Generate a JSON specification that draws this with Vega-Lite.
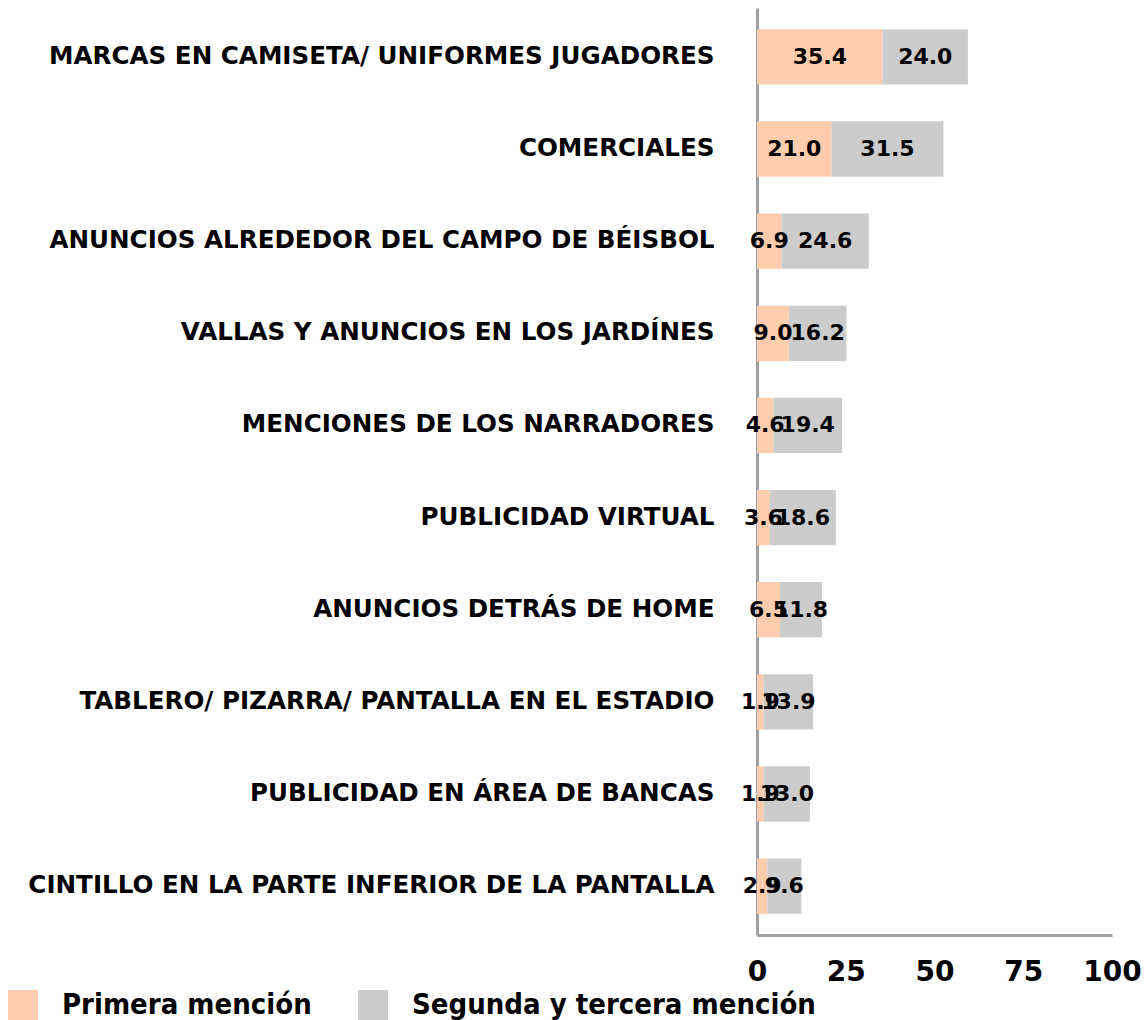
{
  "$schema": "https://vega.github.io/schema/vega-lite/v6.json",
  "width": 355,
  "height": 927,
  "autosize": {"type": "none"},
  "padding": {"left": 757, "top": 8, "right": 34, "bottom": 85},
  "background": "white",
  "config": {"view": {"stroke": null}, "font": "DejaVu Sans"},
  "data": {
    "values": [
      {"cat": "MARCAS EN CAMISETA/ UNIFORMES JUGADORES", "serie": "Primera mención", "ord": 1, "value": 35.4},
      {"cat": "MARCAS EN CAMISETA/ UNIFORMES JUGADORES", "serie": "Segunda y tercera mención", "ord": 2, "value": 24.0},
      {"cat": "COMERCIALES", "serie": "Primera mención", "ord": 1, "value": 21.0},
      {"cat": "COMERCIALES", "serie": "Segunda y tercera mención", "ord": 2, "value": 31.5},
      {"cat": "ANUNCIOS ALREDEDOR DEL CAMPO DE BÉISBOL", "serie": "Primera mención", "ord": 1, "value": 6.9},
      {"cat": "ANUNCIOS ALREDEDOR DEL CAMPO DE BÉISBOL", "serie": "Segunda y tercera mención", "ord": 2, "value": 24.6},
      {"cat": "VALLAS Y ANUNCIOS EN LOS JARDÍNES", "serie": "Primera mención", "ord": 1, "value": 9.0},
      {"cat": "VALLAS Y ANUNCIOS EN LOS JARDÍNES", "serie": "Segunda y tercera mención", "ord": 2, "value": 16.2},
      {"cat": "MENCIONES DE LOS NARRADORES", "serie": "Primera mención", "ord": 1, "value": 4.6},
      {"cat": "MENCIONES DE LOS NARRADORES", "serie": "Segunda y tercera mención", "ord": 2, "value": 19.4},
      {"cat": "PUBLICIDAD VIRTUAL", "serie": "Primera mención", "ord": 1, "value": 3.6},
      {"cat": "PUBLICIDAD VIRTUAL", "serie": "Segunda y tercera mención", "ord": 2, "value": 18.6},
      {"cat": "ANUNCIOS DETRÁS DE HOME", "serie": "Primera mención", "ord": 1, "value": 6.5},
      {"cat": "ANUNCIOS DETRÁS DE HOME", "serie": "Segunda y tercera mención", "ord": 2, "value": 11.8},
      {"cat": "TABLERO/ PIZARRA/ PANTALLA EN EL ESTADIO", "serie": "Primera mención", "ord": 1, "value": 1.9},
      {"cat": "TABLERO/ PIZARRA/ PANTALLA EN EL ESTADIO", "serie": "Segunda y tercera mención", "ord": 2, "value": 13.9},
      {"cat": "PUBLICIDAD EN ÁREA DE BANCAS", "serie": "Primera mención", "ord": 1, "value": 1.9},
      {"cat": "PUBLICIDAD EN ÁREA DE BANCAS", "serie": "Segunda y tercera mención", "ord": 2, "value": 13.0},
      {"cat": "CINTILLO EN LA PARTE INFERIOR DE LA PANTALLA", "serie": "Primera mención", "ord": 1, "value": 2.9},
      {"cat": "CINTILLO EN LA PARTE INFERIOR DE LA PANTALLA", "serie": "Segunda y tercera mención", "ord": 2, "value": 9.6}
    ]
  },
  "transform": [
    {"stack": "value", "groupby": ["cat"], "sort": [{"field": "ord", "order": "ascending"}], "as": ["x0", "x1"]},
    {"calculate": "(datum.x0 + datum.x1) / 2", "as": "mid"}
  ],
  "encoding": {
    "y": {
      "field": "cat",
      "type": "nominal",
      "sort": null,
      "scale": {"paddingInner": 0.4, "paddingOuter": 0.23},
      "axis": {
        "title": null,
        "ticks": false,
        "domainColor": "#a0a0a0",
        "domainWidth": 3,
        "labelFont": "DejaVu Sans",
        "labelFontSize": 24.6,
        "labelFontWeight": "bold",
        "labelColor": "#000000",
        "labelPadding": 43,
        "labelLimit": 800
      }
    }
  },
  "layer": [
    {
      "mark": {"type": "bar"},
      "encoding": {
        "x": {
          "field": "x0",
          "type": "quantitative",
          "scale": {"domain": [0, 100]},
          "axis": {
            "title": null,
            "values": [0, 25, 50, 75, 100],
            "ticks": false,
            "grid": false,
            "domainColor": "#a0a0a0",
            "domainWidth": 3,
            "labelFont": "DejaVu Sans",
            "labelFontSize": 28,
            "labelFontWeight": "bold",
            "labelColor": "#000000",
            "labelPadding": 23,
            "labelFlush": false
          }
        },
        "x2": {"field": "x1"},
        "color": {
          "field": "serie",
          "type": "nominal",
          "scale": {"domain": ["Primera mención", "Segunda y tercera mención"], "range": ["#FFCCAD", "#CCCCCC"]},
          "legend": {
            "title": null,
            "orient": "none",
            "direction": "horizontal",
            "legendX": -749,
            "legendY": 982,
            "padding": 0,
            "symbolType": "square",
            "symbolSize": 900,
            "symbolStrokeWidth": 0,
            "symbolOpacity": 1,
            "labelFont": "DejaVu Sans Condensed",
            "labelFontSize": 29,
            "labelFontWeight": "bold",
            "labelColor": "#000000",
            "labelOffset": 24,
            "labelLimit": 600,
            "columnPadding": 46
          }
        }
      }
    },
    {
      "mark": {"type": "text", "font": "DejaVu Sans", "fontWeight": "bold", "fontSize": 22, "color": "#000000"},
      "encoding": {
        "x": {"field": "mid", "type": "quantitative"},
        "text": {"field": "value", "type": "quantitative", "format": ".1f"}
      }
    }
  ]
}
